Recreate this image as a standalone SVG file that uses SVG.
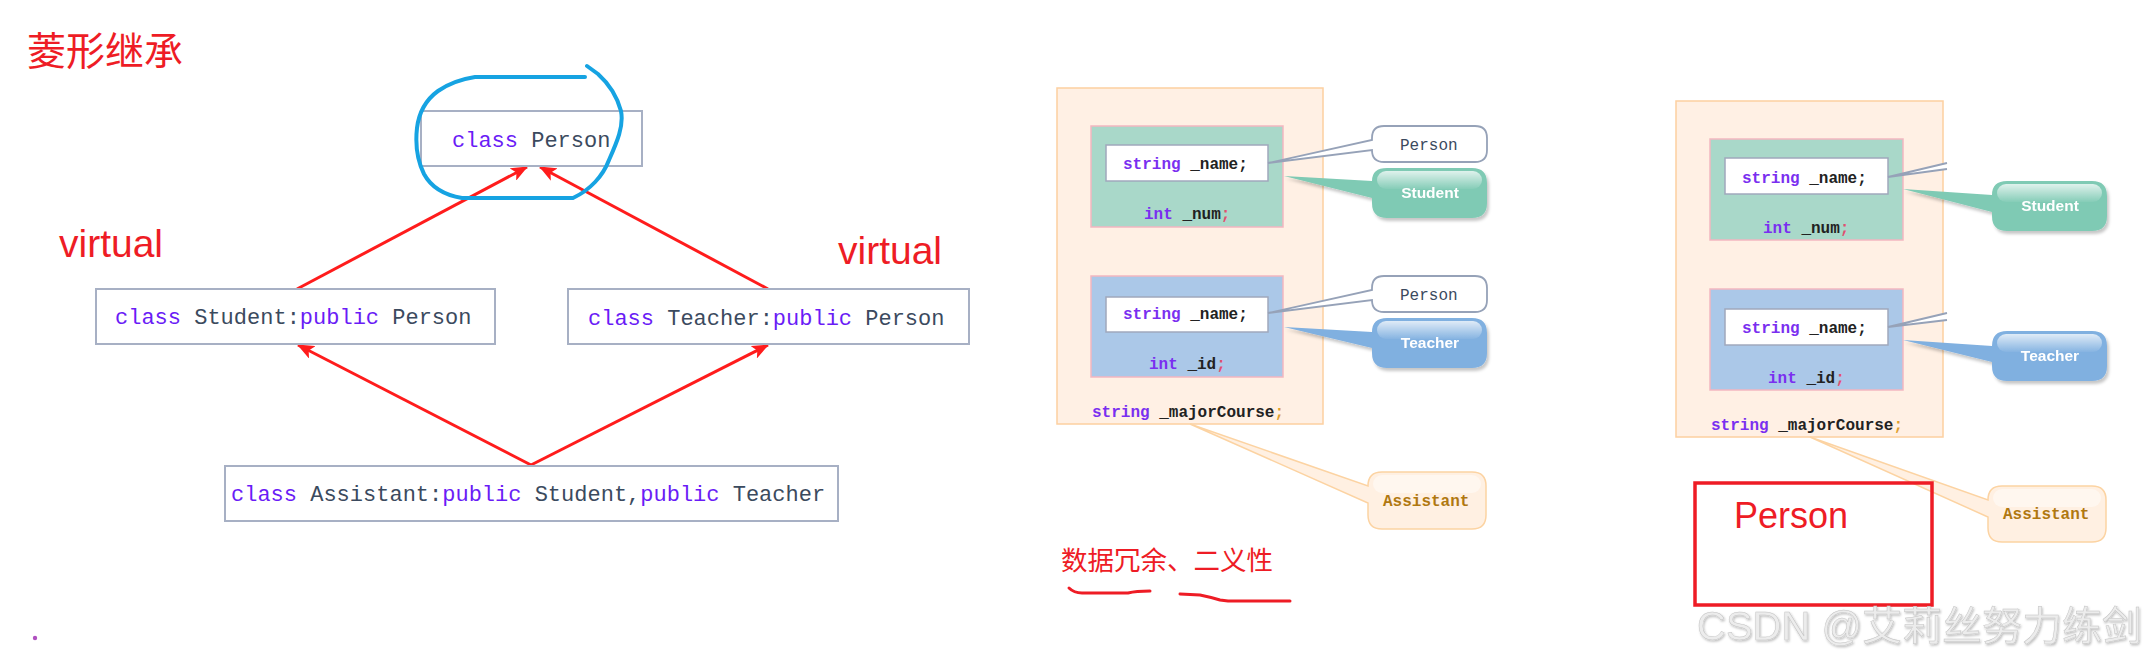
<svg xmlns="http://www.w3.org/2000/svg" width="2148" height="664" viewBox="0 0 2148 664">
<defs>
<style>
.box{fill:#fff;stroke:#a7b0c4;stroke-width:2}
.code{font-family:"Liberation Mono",monospace;font-size:22px;fill:#3b4a5e}
.kw{fill:#6a1cf6}
.red{fill:#ee1c25;font-family:"Liberation Sans","Noto Sans CJK SC",sans-serif}
.conn{stroke:#ff1c1c;stroke-width:3;fill:none}
.outer{fill:#fff0e4;stroke:#fdd0a0;stroke-width:1.5}
.grn{fill:#a9d8c9;stroke:#f3b6c0;stroke-width:1.5}
.blu{fill:#abc8e8;stroke:#f3b6c0;stroke-width:1.5}
.wbox{fill:#fff;stroke:#a0a8bc;stroke-width:1.5}
.mc{font-family:"Liberation Mono",monospace;font-size:16px;font-weight:bold;fill:#222}
.mk{fill:#7a2ff0}
.semi{fill:#e05070}
.semi2{fill:#e0a030}
.pbub{fill:#fff;stroke:#96a2b8;stroke-width:1.8}
.plab{font-family:"Liberation Mono",monospace;font-size:16px;fill:#3b4a5e}
.sbub{fill:#7fcab4}
.tbub{fill:#80b0e0}
.abub{fill:#fff0e2;stroke:#fcd3a2;stroke-width:1.5}
.wlab{font-family:"Liberation Sans",Arial,sans-serif;font-size:15.5px;font-weight:bold;fill:#fff;text-anchor:middle}
.alab{font-family:"Liberation Mono",monospace;font-size:16px;font-weight:bold;fill:#b07810}
</style>
<marker id="ah" markerUnits="userSpaceOnUse" markerWidth="18" markerHeight="14" refX="16" refY="7" orient="auto">
<path d="M0,0 L17,7 L0,14 L4,7 Z" fill="#ff1c1c"/>
</marker>
<linearGradient id="gloss" x1="0" y1="0" x2="0" y2="1">
<stop offset="0" stop-color="#fff" stop-opacity="0.75"/>
<stop offset="1" stop-color="#fff" stop-opacity="0.05"/>
</linearGradient>
<filter id="sh" x="-10%" y="-20%" width="130%" height="150%">
<feDropShadow dx="2" dy="3" stdDeviation="1.5" flood-color="#000" flood-opacity="0.22"/>
</filter>
<filter id="wm" x="-5%" y="-20%" width="110%" height="150%">
<feDropShadow dx="1" dy="1.5" stdDeviation="0.8" flood-color="#000" flood-opacity="0.25"/>
</filter>
</defs>

<rect width="2148" height="664" fill="#fff"/>

<!-- Left: diamond inheritance -->
<text class="red" x="27" y="65" font-size="39">菱形继承</text>
<text class="red" x="59" y="257" font-size="39">virtual</text>
<text class="red" x="838" y="264" font-size="39">virtual</text>
<circle cx="35" cy="638" r="2.2" fill="#b050c0"/>

<g id="connectors">
<line class="conn" x1="297" y1="289" x2="527" y2="167" marker-end="url(#ah)"/>
<line class="conn" x1="768" y1="289" x2="540" y2="167" marker-end="url(#ah)"/>
<line class="conn" x1="531" y1="465" x2="298" y2="345" marker-end="url(#ah)"/>
<line class="conn" x1="531" y1="465" x2="768" y2="345" marker-end="url(#ah)"/>
</g>

<g id="person">
<rect class="box" x="421" y="111" width="221" height="55"/>
<text class="code" x="452" y="147"><tspan class="kw">class</tspan> Person</text>
</g>
<path id="highlight" d="M585,77 L475,77 C462,79 448,84 438,91 C427,99 419,112 417,128 C415,146 418,162 424,174 C431,187 444,195 462,198 L573,198 C590,190 603,176 609,160 C617,142 624,126 621,111 C617,96 608,83 598,74 L587,66" fill="none" stroke="#16a3e2" stroke-width="4" stroke-linejoin="round" stroke-linecap="round"/>

<g id="student">
<rect class="box" x="96" y="289" width="399" height="55"/>
<text class="code" x="115" y="324"><tspan class="kw">class</tspan> Student:<tspan class="kw">public</tspan> Person</text>
</g>
<g id="teacher">
<rect class="box" x="568" y="289" width="401" height="55"/>
<text class="code" x="588" y="325"><tspan class="kw">class</tspan> Teacher:<tspan class="kw">public</tspan> Person</text>
</g>
<g id="assistant">
<rect class="box" x="225" y="466" width="613" height="55"/>
<text class="code" x="231" y="501"><tspan class="kw">class</tspan> Assistant:<tspan class="kw">public</tspan> Student,<tspan class="kw">public</tspan> Teacher</text>
</g>

<!-- Middle: memory layout -->
<g id="mid-layout">
<rect class="outer" x="1057" y="88" width="266" height="336"/>
<rect class="grn" x="1091" y="126" width="192" height="101"/>
<rect class="wbox" x="1106" y="145" width="162" height="36"/>
<text class="mc" x="1123" y="169"><tspan class="mk">string</tspan> _name;</text>
<text class="mc" x="1144" y="219"><tspan class="mk">int</tspan> _num<tspan class="semi">;</tspan></text>
<rect class="blu" x="1091" y="276" width="192" height="101"/>
<rect class="wbox" x="1106" y="297" width="162" height="35"/>
<text class="mc" x="1123" y="319"><tspan class="mk">string</tspan> _name;</text>
<text class="mc" x="1149" y="369"><tspan class="mk">int</tspan> _id<tspan class="semi">;</tspan></text>
<text class="mc" x="1092" y="417"><tspan class="mk">string</tspan> _majorCourse<tspan class="semi2">;</tspan></text>
</g>

<g id="mid-person1">
<path class="pbub" d="M1384,126 H1475 Q1487,126 1487,138 V150 Q1487,162 1475,162 H1384 Q1372,162 1372,150 L1268,163 L1372,140 V138 Q1372,126 1384,126 Z"/>
<text class="plab" x="1400" y="150">Person</text>
</g>
<g id="mid-student" filter="url(#sh)">
<path class="sbub" d="M1387,168 H1472 Q1487,168 1487,183 V203 Q1487,218 1472,218 H1387 Q1372,218 1372,203 V198 L1284,176 L1372,181 Q1372,168 1387,168 Z"/>
<rect x="1377" y="171" width="105" height="18" rx="9" fill="url(#gloss)"/>
<text class="wlab" x="1430" y="198">Student</text>
</g>
<g id="mid-person2">
<path class="pbub" d="M1384,276 H1475 Q1487,276 1487,288 V300 Q1487,312 1475,312 H1384 Q1372,312 1372,300 L1268,313 L1372,290 V288 Q1372,276 1384,276 Z"/>
<text class="plab" x="1400" y="300">Person</text>
</g>
<g id="mid-teacher" filter="url(#sh)">
<path class="tbub" d="M1387,318 H1472 Q1487,318 1487,333 V353 Q1487,368 1472,368 H1387 Q1372,368 1372,353 V348 L1284,327 L1372,332 Q1372,318 1387,318 Z"/>
<rect x="1377" y="321" width="105" height="18" rx="9" fill="url(#gloss)"/>
<text class="wlab" x="1430" y="348">Teacher</text>
</g>
<g id="mid-assistant">
<path class="abub" d="M1382,472 H1472 Q1486,472 1486,486 V515 Q1486,529 1472,529 H1382 Q1368,529 1368,515 V503 L1190,424 L1368,486 Q1368,472 1382,472 Z"/>
<rect x="1373" y="475" width="108" height="18" rx="9" fill="#fff" fill-opacity="0.45"/>
<text class="alab" x="1383" y="506">Assistant</text>
</g>
<text class="red" x="1061" y="570" font-size="26.5">数据冗余、二义性</text>
<g fill="none" stroke="#ee1c25" stroke-width="3" stroke-linecap="round">
<path d="M1069,588 Q1074,593 1082,593 L1128,593 Q1136,591 1150,591"/>
<path d="M1180,594 L1200,595 Q1210,597 1220,600 L1228,601 L1290,601"/>
</g>

<!-- Right: virtual inheritance layout -->
<g id="right-layout">
<rect class="outer" x="1676" y="101" width="267" height="336"/>
<rect class="grn" x="1710" y="139" width="193" height="101"/>
<rect class="wbox" x="1725" y="158" width="163" height="36"/>
<text class="mc" x="1742" y="183"><tspan class="mk">string</tspan> _name;</text>
<text class="mc" x="1763" y="233"><tspan class="mk">int</tspan> _num<tspan class="semi">;</tspan></text>
<rect class="blu" x="1710" y="289" width="193" height="101"/>
<rect class="wbox" x="1725" y="309" width="163" height="36"/>
<text class="mc" x="1742" y="333"><tspan class="mk">string</tspan> _name;</text>
<text class="mc" x="1768" y="383"><tspan class="mk">int</tspan> _id<tspan class="semi">;</tspan></text>
<text class="mc" x="1711" y="430"><tspan class="mk">string</tspan> _majorCourse<tspan class="semi2">;</tspan></text>
<path d="M1947,163 L1888,177 L1947,169" fill="#fff" stroke="#96a2b8" stroke-width="1.8"/>
<path d="M1947,313 L1888,327 L1947,320" fill="#fff" stroke="#96a2b8" stroke-width="1.8"/>
</g>
<g id="right-student" filter="url(#sh)">
<path class="sbub" d="M2007,181 H2092 Q2107,181 2107,196 V216 Q2107,231 2092,231 H2007 Q1992,231 1992,216 V212 L1903,189 L1992,195 Q1992,181 2007,181 Z"/>
<rect x="1997" y="184" width="105" height="18" rx="9" fill="url(#gloss)"/>
<text class="wlab" x="2050" y="211">Student</text>
</g>
<g id="right-teacher" filter="url(#sh)">
<path class="tbub" d="M2007,331 H2092 Q2107,331 2107,346 V366 Q2107,381 2092,381 H2007 Q1992,381 1992,366 V362 L1903,340 L1992,346 Q1992,331 2007,331 Z"/>
<rect x="1997" y="334" width="105" height="18" rx="9" fill="url(#gloss)"/>
<text class="wlab" x="2050" y="361">Teacher</text>
</g>
<g id="right-assistant">
<path class="abub" d="M2002,486 H2092 Q2106,486 2106,500 V528 Q2106,542 2092,542 H2002 Q1988,542 1988,528 V517 L1810,437 L1988,500 Q1988,486 2002,486 Z"/>
<rect x="1993" y="489" width="108" height="18" rx="9" fill="#fff" fill-opacity="0.45"/>
<text class="alab" x="2003" y="519">Assistant</text>
</g>
<g id="virtual-person">
<rect x="1695" y="483" width="237" height="122" fill="none" stroke="#ee1c25" stroke-width="3.5"/>
<text class="red" x="1734" y="528" font-size="36">Person</text>
</g>

<text x="1697" y="640" font-family="Liberation Sans,Noto Sans CJK SC,sans-serif" font-size="40" fill="#ececec" stroke="#c4c4c4" stroke-width="0.5" filter="url(#wm)">CSDN @艾莉丝努力练剑</text>
</svg>
